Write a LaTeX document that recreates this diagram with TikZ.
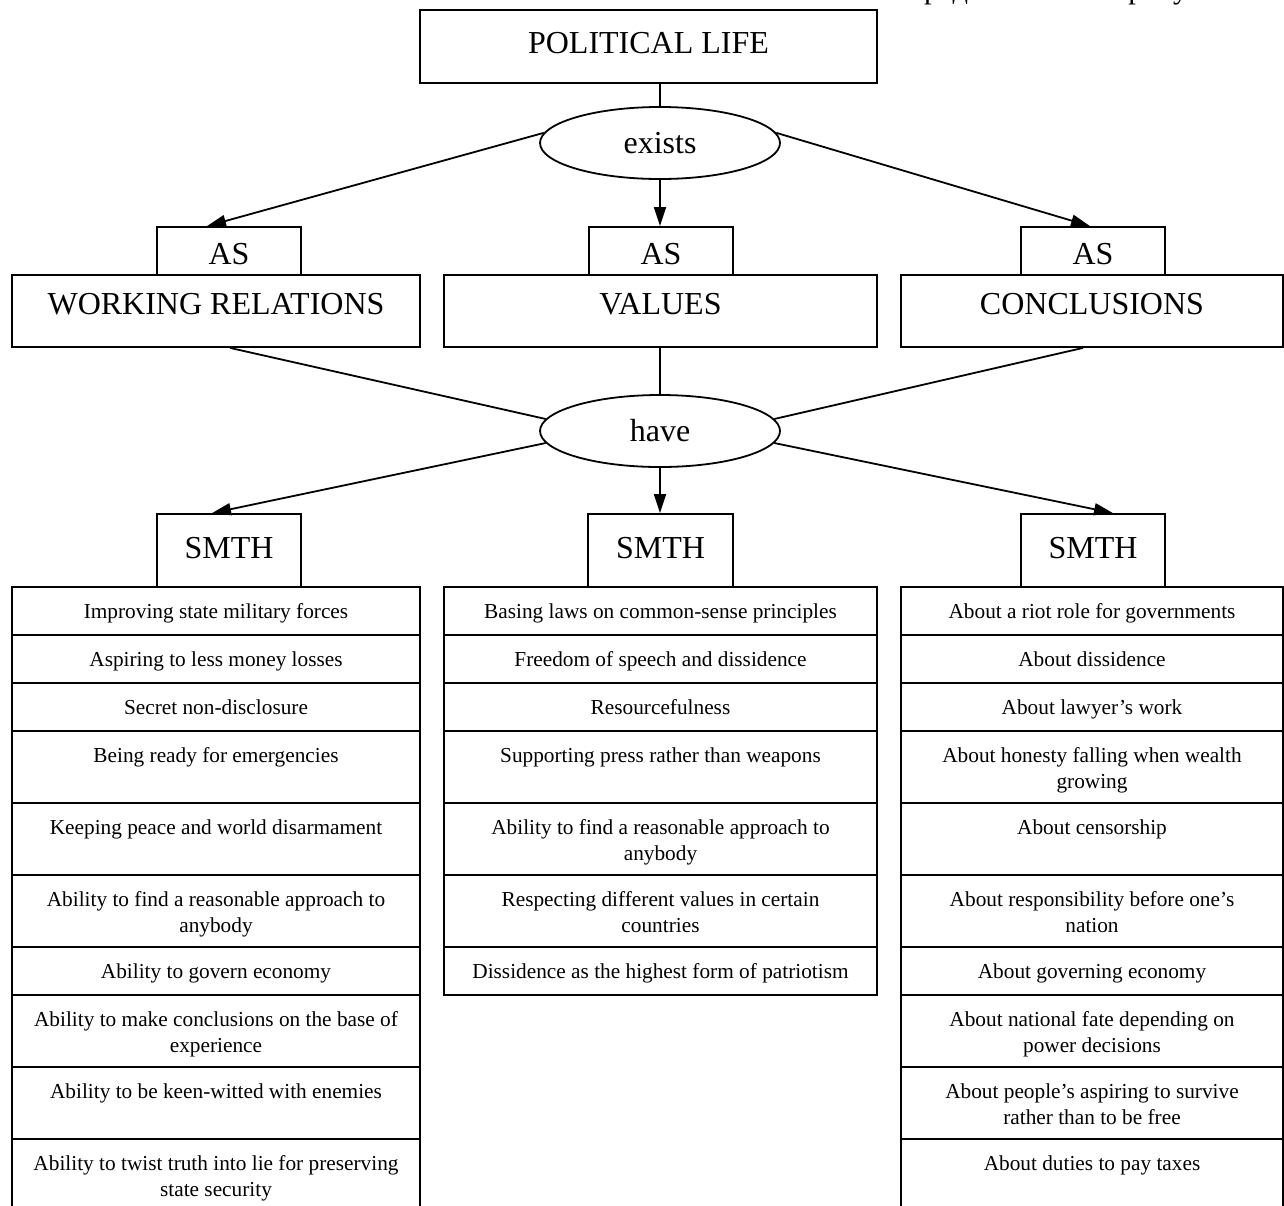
\documentclass[tikz,border=0pt]{standalone}
\usepackage{fontspec}
\setmainfont{Liberation Serif}
\usetikzlibrary{arrows.meta,shapes.geometric,calc}
\newcommand{\cellrow}[6]{%
  \draw (#2,#4) rectangle (#3,#5);
  \node[celltext] (#1) at ({(#2+#3)/2},{#4+12.5}) {\strut #6};}
\begin{document}
\begin{tikzpicture}[x=1pt,y=-1pt,
  line width=1.8pt,
  big/.style={font=\fontsize{32}{38}\selectfont},
  box/.style={draw,rectangle,inner sep=0pt,big},
  oval/.style={draw,ellipse,inner sep=0pt,minimum width=240pt,minimum height=72pt,big},
  celltext/.style={anchor=north,inner sep=0pt,align=center,font=\fontsize{21.3}{26}\selectfont},
  arr/.style={-{Triangle[length=19pt,width=12pt]}},
  asbox/.style={box,minimum width=144pt,minimum height=48pt,text height=30pt,text depth=3pt},
  mainbox/.style={box,minimum height=72pt,text height=22pt,text depth=16pt},
  smthbox/.style={box,minimum width=144pt,minimum height=73pt,text height=24pt,text depth=8pt}
]
\useasboundingbox (0,0) rectangle (1284,1205);
\clip (0,0) rectangle (1284,1205);

% cut-off line of text at the very top (only its lowest part is on the page)
\node[anchor=base west,inner sep=0pt,font=\fontsize{30.5}{36}\selectfont] (cut) at (907,-1.5) {представлено на рисунке.};

\node[box,minimum width=457pt,minimum height=73pt,text height=22pt,text depth=8pt] (pl) at (648.5,46.5) {POLITICAL LIFE};
\node[oval] (ex) at (660,143) {exists};

\node[asbox] (as1) at (229,251) {AS};
\node[asbox] (as2) at (661,251) {AS};
\node[asbox] (as3) at (1093,251) {AS};

\node[mainbox,minimum width=408pt] (wr) at (216,311) {WORKING RELATIONS};
\node[mainbox,minimum width=433pt] (val) at (660.5,311) {VALUES};
\node[mainbox,minimum width=382pt] (conc) at (1092,311) {CONCLUSIONS};

\node[oval] (hv) at (660,431) {have};

\node[smthbox] (sm1) at (229,550.5) {SMTH};
\node[smthbox,minimum width=145pt] (sm2) at (660.5,550.5) {SMTH};
\node[smthbox] (sm3) at (1093,550.5) {SMTH};

% connectors
\draw (ex.north |- pl.south) -- (ex.north);
\draw[arr] (ex.175) -- ([xshift=-22pt]as1.north);
\draw[arr] (ex.south) -- (ex.south |- as2.north);
\draw[arr] (ex.5) -- ([xshift=-3pt]as3.north);
\draw ([xshift=14pt]wr.south) -- (hv.174);
\draw (hv.north |- val.south) -- (hv.north);
\draw ([xshift=-9pt]conc.south) -- (hv.6);
\draw[arr] (hv.186) -- ([xshift=-17pt]sm1.north);
\draw[arr] (hv.south) -- (hv.south |- sm2.north);
\draw[arr] (hv.354) -- ([xshift=20pt]sm3.north);

% left column
\cellrow{l1}{12}{420}{587}{635}{Improving state military forces}
\cellrow{l2}{12}{420}{635}{683}{Aspiring to less money losses}
\cellrow{l3}{12}{420}{683}{731}{Secret non-disclosure}
\cellrow{l4}{12}{420}{731}{803}{Being ready for emergencies}
\cellrow{l5}{12}{420}{803}{875}{Keeping peace and world disarmament}
\cellrow{l6}{12}{420}{875}{947}{Ability to find a reasonable approach to\\ anybody}
\cellrow{l7}{12}{420}{947}{995}{Ability to govern economy}
\cellrow{l8}{12}{420}{995}{1067}{Ability to make conclusions on the base of\\ experience}
\cellrow{l9}{12}{420}{1067}{1139}{Ability to be keen-witted with enemies}
\cellrow{l10}{12}{420}{1139}{1240}{Ability to twist truth into lie for preserving\\ state security}

% middle column
\cellrow{m1}{444}{877}{587}{635}{Basing laws on common-sense principles}
\cellrow{m2}{444}{877}{635}{683}{Freedom of speech and dissidence}
\cellrow{m3}{444}{877}{683}{731}{Resourcefulness}
\cellrow{m4}{444}{877}{731}{803}{Supporting press rather than weapons}
\cellrow{m5}{444}{877}{803}{875}{Ability to find a reasonable approach to\\ anybody}
\cellrow{m6}{444}{877}{875}{947}{Respecting different values in certain\\ countries}
\cellrow{m7}{444}{877}{947}{995}{Dissidence as the highest form of patriotism}

% right column
\cellrow{r1}{901}{1283}{587}{635}{About a riot role for governments}
\cellrow{r2}{901}{1283}{635}{683}{About dissidence}
\cellrow{r3}{901}{1283}{683}{731}{About lawyer’s work}
\cellrow{r4}{901}{1283}{731}{803}{About honesty falling when wealth\\ growing}
\cellrow{r5}{901}{1283}{803}{875}{About censorship}
\cellrow{r6}{901}{1283}{875}{947}{About responsibility before one’s\\ nation}
\cellrow{r7}{901}{1283}{947}{995}{About governing economy}
\cellrow{r8}{901}{1283}{995}{1067}{About national fate depending on\\ power decisions}
\cellrow{r9}{901}{1283}{1067}{1139}{About people’s aspiring to survive\\ rather than to be free}
\cellrow{r10}{901}{1283}{1139}{1240}{About duties to pay taxes}
\end{tikzpicture}
\end{document}
